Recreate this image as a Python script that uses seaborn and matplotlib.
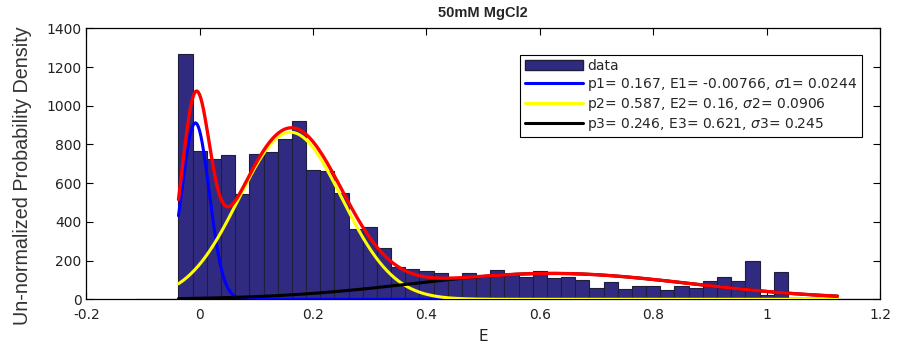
import numpy as np
import pandas as pd
import seaborn as sns
import matplotlib.pyplot as plt
from matplotlib.patches import Patch
from matplotlib.lines import Line2D

# histogram: bin centres and counts
bin_width = 0.025
bin_centers = np.round(np.arange(-0.025, 1.0251, bin_width), 4)
counts = [1265, 766, 723, 745, 542, 749, 759, 830, 920, 670,
          664, 551, 365, 375, 265, 165, 155, 148, 135, 115,
          138, 118, 153, 125, 115, 146, 108, 115, 100, 60,
          91, 55, 70, 69, 48, 69, 57, 96, 113, 96,
          200, 20, 143]

# gaussian fit parameters (from legend)
p = [0.167, 0.587, 0.246]
E = [-0.00766, 0.16, 0.621]
sig = [0.0244, 0.0906, 0.245]
n_events = 13360
fit_range = (-0.0375, 1.125)
baseline_range = (-0.1125, 1.2)

labels = ["p1= 0.167, E1= -0.00766, $\\sigma$1= 0.0244",
          "p2= 0.587, E2= 0.16, $\\sigma$2= 0.0906",
          "p3= 0.246, E3= 0.621, $\\sigma$3= 0.245"]
colors = ["#0000ff", "#ffff00", "#000000"]
bar_color = "#302b80"

sns.set_style("ticks")
plt.rcParams['font.family'] = ['DejaVu Sans']

fig = plt.figure(figsize=(8.97, 3.51), dpi=100)
ax = fig.add_axes([0.0963, 0.1473, 0.8847, 0.772])

df = pd.DataFrame({"E": bin_centers, "n": counts})
lo = bin_centers[0] - bin_width / 2
hi = bin_centers[-1] + bin_width / 2

ax.plot(baseline_range, [0, 0], color="black", lw=0.8, zorder=1)
sns.histplot(data=df, x="E", weights="n", binwidth=bin_width, binrange=(lo, hi), ax=ax,
             color=bar_color, alpha=1, edgecolor="#1e1e3a", linewidth=0.8, zorder=2)

xs = np.linspace(fit_range[0], fit_range[1], 500)
comps = []
for pi, mu, s in zip(p, E, sig):
    comps.append(n_events * bin_width * pi / (s * np.sqrt(2 * np.pi)) * np.exp(-0.5 * ((xs - mu) / s) ** 2))

for y, c in zip(comps, colors):
    sns.lineplot(x=xs, y=y, color=c, lw=2.2, ax=ax, zorder=3)
sns.lineplot(x=xs, y=np.sum(comps, axis=0), color="#ff0000", lw=2.4, ax=ax, zorder=4)

ax.set_xlim(-0.2, 1.2)
ax.set_ylim(0, 1400)
ax.set_xticks(np.arange(-0.2, 1.21, 0.2))
ax.set_xticklabels(["-0.2", "0", "0.2", "0.4", "0.6", "0.8", "1", "1.2"])
ax.set_yticks(np.arange(0, 1401, 200))
ax.tick_params(direction="in", top=True, right=True, length=5, width=0.8,
               labelsize=10, colors="black", labelcolor="#222222")
ax.tick_params(axis="x", pad=6)
for sp in ax.spines.values():
    sp.set_visible(True)
    sp.set_linewidth(0.9)
    sp.set_color("black")

ax.set_xlabel("E", fontsize=11, labelpad=5, color="#222222")
ax.set_ylabel("Un-normalized Probability Density", fontsize=14.2,
              color="#333333", family=["Liberation Sans", "DejaVu Sans"])
ax.yaxis.set_label_coords(-0.069, 0.455)
ax.set_title("50mM MgCl2", fontsize=10.5, fontweight="bold", pad=8,
             family=["Liberation Sans", "DejaVu Sans"])

handles = [Patch(facecolor=bar_color, edgecolor="#1e1e3a", label="data")]
handles += [Line2D([], [], color=c, lw=2.2, label=l) for c, l in zip(colors, labels)]
leg = ax.legend(handles=handles, loc="upper right", bbox_to_anchor=(0.977, 0.902),
                borderaxespad=0, fontsize=10, handlelength=4.2, handletextpad=0.3,
                labelspacing=0.22, fancybox=False, framealpha=1, borderpad=0.3)
leg.get_frame().set_edgecolor("black")
leg.get_frame().set_linewidth(0.8)

fig.savefig("out.png", dpi=100)
